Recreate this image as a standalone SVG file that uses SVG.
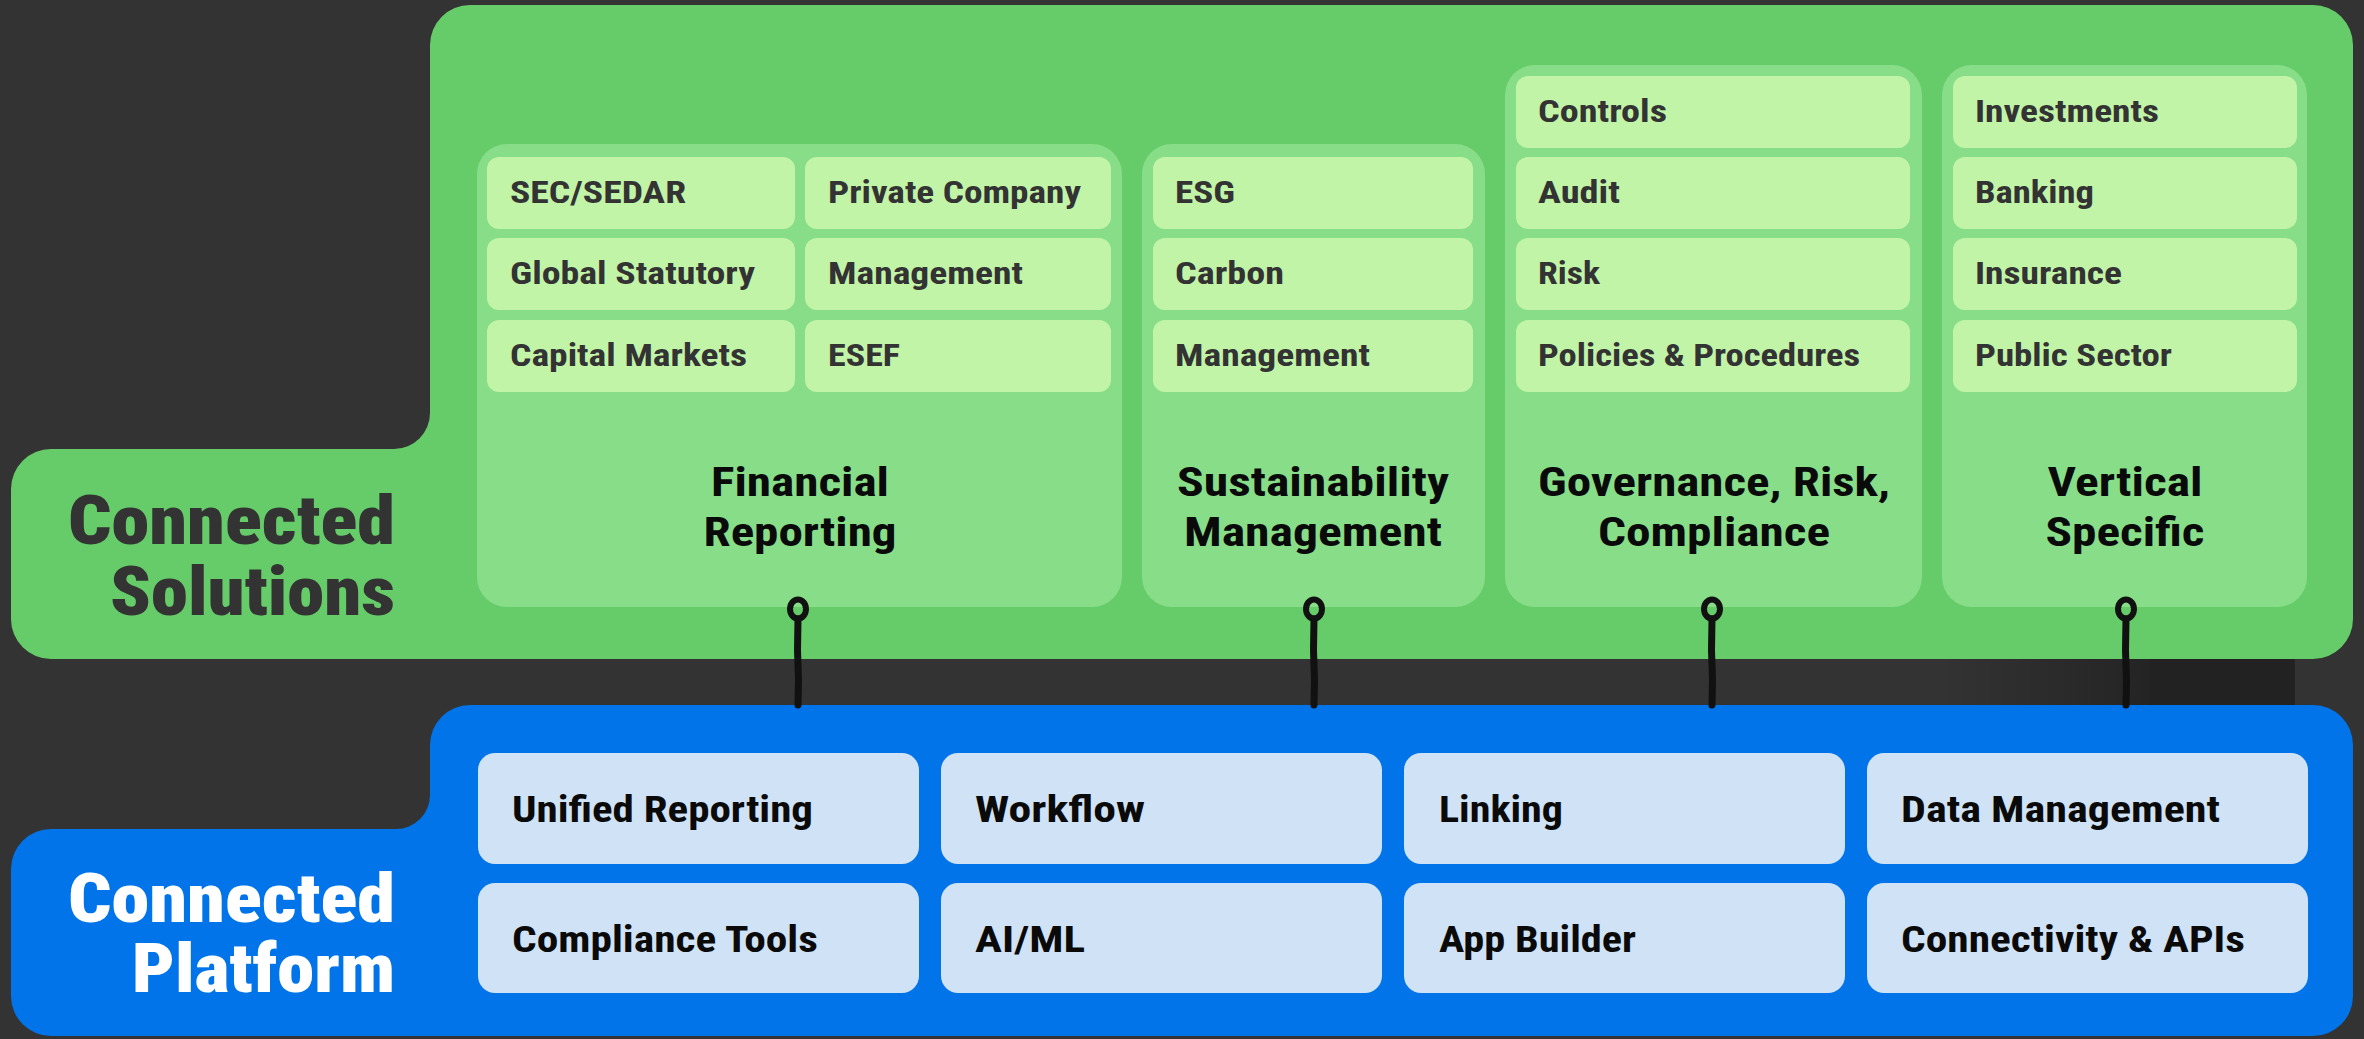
<svg xmlns="http://www.w3.org/2000/svg" width="2364" height="1039" viewBox="0 0 2364 1039">
<style>
.bg{fill:#333333}
.green{fill:#66cc6a}
.col{fill:#88de88}
.item{fill:#c2f4a8}
.blue{fill:#0074e8}
.bitem{fill:#cfe2f6}
text{font-family:"Roboto Condensed","Liberation Sans Narrow","Roboto","Liberation Sans",sans-serif;font-weight:700}
.it{font-size:32px;fill:#333333}
.ti{font-size:40px;fill:#0a0a0a;text-anchor:middle}
.bt{font-size:37px;fill:#0a0a0a}
.big{font-size:69px;font-weight:900;text-anchor:end}
.conn{fill:none;stroke:#111111;stroke-linecap:round;stroke-linejoin:round}
</style>
<defs>
<linearGradient id="shade" x1="0" y1="0" x2="1" y2="0">
<stop offset="0" stop-color="#333333"/>
<stop offset="1" stop-color="#242424"/>
</linearGradient>
</defs>
<rect class="bg" x="0" y="0" width="2364" height="1039"/>
<rect x="1940" y="655" width="209" height="55" fill="url(#shade)"/>
<rect x="2149" y="655" width="146" height="55" fill="#222222"/>

<g id="connected-solutions">
<path class="green" d="M11,489 A40,40 0 0 1 51,449 L394,449 A36,36 0 0 0 430,413 L430,45 A40,40 0 0 1 470,5 L2313,5 A40,40 0 0 1 2353,45 L2353,619 A40,40 0 0 1 2313,659 L51,659 A40,40 0 0 1 11,619 Z"/>
<text class="big" x="395" y="544" fill="#333333" textLength="327" lengthAdjust="spacingAndGlyphs">Connected</text>
<text class="big" x="395" y="615" fill="#333333" textLength="285" lengthAdjust="spacingAndGlyphs">Solutions</text>
</g>

<g id="financial-reporting">
<rect class="col" x="477" y="144" width="645" height="463" rx="30"/>
<rect class="item" x="487" y="157" width="308" height="72" rx="12"/>
<rect class="item" x="487" y="238" width="308" height="72" rx="12"/>
<rect class="item" x="487" y="320" width="308" height="72" rx="12"/>
<rect class="item" x="805" y="157" width="306" height="72" rx="12"/>
<rect class="item" x="805" y="238" width="306" height="72" rx="12"/>
<rect class="item" x="805" y="320" width="306" height="72" rx="12"/>
<text class="it" x="510" y="203" textLength="176" lengthAdjust="spacingAndGlyphs">SEC/SEDAR</text>
<text class="it" x="510" y="284" textLength="245" lengthAdjust="spacingAndGlyphs">Global Statutory</text>
<text class="it" x="510" y="366" textLength="237" lengthAdjust="spacingAndGlyphs">Capital Markets</text>
<text class="it" x="828" y="203" textLength="253" lengthAdjust="spacingAndGlyphs">Private Company</text>
<text class="it" x="828" y="284" textLength="195" lengthAdjust="spacingAndGlyphs">Management</text>
<text class="it" x="828" y="366" textLength="72" lengthAdjust="spacingAndGlyphs">ESEF</text>
<text class="ti" x="800" y="496" textLength="178" lengthAdjust="spacingAndGlyphs">Financial</text>
<text class="ti" x="800" y="546" textLength="193" lengthAdjust="spacingAndGlyphs">Reporting</text>
</g>

<g id="sustainability-management">
<rect class="col" x="1142" y="144" width="343" height="463" rx="30"/>
<rect class="item" x="1153" y="157" width="320" height="72" rx="12"/>
<rect class="item" x="1153" y="238" width="320" height="72" rx="12"/>
<rect class="item" x="1153" y="320" width="320" height="72" rx="12"/>
<text class="it" x="1175" y="203" textLength="60" lengthAdjust="spacingAndGlyphs">ESG</text>
<text class="it" x="1175" y="284" textLength="109" lengthAdjust="spacingAndGlyphs">Carbon</text>
<text class="it" x="1175" y="366" textLength="195" lengthAdjust="spacingAndGlyphs">Management</text>
<text class="ti" x="1313" y="496" textLength="272" lengthAdjust="spacingAndGlyphs">Sustainability</text>
<text class="ti" x="1313" y="546" textLength="258" lengthAdjust="spacingAndGlyphs">Management</text>
</g>

<g id="governance-risk-compliance">
<rect class="col" x="1505" y="65" width="417" height="542" rx="30"/>
<rect class="item" x="1516" y="76" width="394" height="72" rx="12"/>
<rect class="item" x="1516" y="157" width="394" height="72" rx="12"/>
<rect class="item" x="1516" y="238" width="394" height="72" rx="12"/>
<rect class="item" x="1516" y="320" width="394" height="72" rx="12"/>
<text class="it" x="1538" y="122" textLength="129" lengthAdjust="spacingAndGlyphs">Controls</text>
<text class="it" x="1538" y="203" textLength="82" lengthAdjust="spacingAndGlyphs">Audit</text>
<text class="it" x="1538" y="284" textLength="62" lengthAdjust="spacingAndGlyphs">Risk</text>
<text class="it" x="1538" y="366" textLength="322" lengthAdjust="spacingAndGlyphs">Policies &amp; Procedures</text>
<text class="ti" x="1714" y="496" textLength="352" lengthAdjust="spacingAndGlyphs">Governance, Risk,</text>
<text class="ti" x="1714" y="546" textLength="232" lengthAdjust="spacingAndGlyphs">Compliance</text>
</g>

<g id="vertical-specific">
<rect class="col" x="1942" y="65" width="365" height="542" rx="30"/>
<rect class="item" x="1953" y="76" width="344" height="72" rx="12"/>
<rect class="item" x="1953" y="157" width="344" height="72" rx="12"/>
<rect class="item" x="1953" y="238" width="344" height="72" rx="12"/>
<rect class="item" x="1953" y="320" width="344" height="72" rx="12"/>
<text class="it" x="1975" y="122" textLength="184" lengthAdjust="spacingAndGlyphs">Investments</text>
<text class="it" x="1975" y="203" textLength="119" lengthAdjust="spacingAndGlyphs">Banking</text>
<text class="it" x="1975" y="284" textLength="147" lengthAdjust="spacingAndGlyphs">Insurance</text>
<text class="it" x="1975" y="366" textLength="197" lengthAdjust="spacingAndGlyphs">Public Sector</text>
<text class="ti" x="2125" y="496" textLength="155" lengthAdjust="spacingAndGlyphs">Vertical</text>
<text class="ti" x="2125" y="546" textLength="159" lengthAdjust="spacingAndGlyphs">Specific</text>
</g>

<g id="connected-platform">
<path class="blue" d="M11,869 A40,40 0 0 1 51,829 L396,829 A34,34 0 0 0 430,795 L430,745 A40,40 0 0 1 470,705 L2313,705 A40,40 0 0 1 2353,745 L2353,996 A40,40 0 0 1 2313,1036 L51,1036 A40,40 0 0 1 11,996 Z"/>
<text class="big" x="395" y="922" fill="#ffffff" textLength="327" lengthAdjust="spacingAndGlyphs">Connected</text>
<text class="big" x="395" y="992" fill="#ffffff" textLength="263" lengthAdjust="spacingAndGlyphs">Platform</text>
</g>

<g id="platform-unified-reporting"><rect class="bitem" x="478" y="753" width="441" height="111" rx="17"/><text class="bt" x="512" y="822" textLength="301" lengthAdjust="spacingAndGlyphs">Unified Reporting</text></g>
<g id="platform-compliance-tools"><rect class="bitem" x="478" y="883" width="441" height="110" rx="17"/><text class="bt" x="512" y="952" textLength="306" lengthAdjust="spacingAndGlyphs">Compliance Tools</text></g>
<g id="platform-workflow"><rect class="bitem" x="941" y="753" width="441" height="111" rx="17"/><text class="bt" x="975" y="822" textLength="170" lengthAdjust="spacingAndGlyphs">Workflow</text></g>
<g id="platform-ai-ml"><rect class="bitem" x="941" y="883" width="441" height="110" rx="17"/><text class="bt" x="975" y="952" textLength="110" lengthAdjust="spacingAndGlyphs">AI/ML</text></g>
<g id="platform-linking"><rect class="bitem" x="1404" y="753" width="441" height="111" rx="17"/><text class="bt" x="1439" y="822" textLength="124" lengthAdjust="spacingAndGlyphs">Linking</text></g>
<g id="platform-app-builder"><rect class="bitem" x="1404" y="883" width="441" height="110" rx="17"/><text class="bt" x="1439" y="952" textLength="197" lengthAdjust="spacingAndGlyphs">App Builder</text></g>
<g id="platform-data-management"><rect class="bitem" x="1867" y="753" width="441" height="111" rx="17"/><text class="bt" x="1901" y="822" textLength="319" lengthAdjust="spacingAndGlyphs">Data Management</text></g>
<g id="platform-connectivity-apis"><rect class="bitem" x="1867" y="883" width="441" height="110" rx="17"/><text class="bt" x="1901" y="952" textLength="344" lengthAdjust="spacingAndGlyphs">Connectivity &amp; APIs</text></g>

<g id="connectors">
<ellipse class="conn" cx="798" cy="609" rx="8" ry="9.5" stroke-width="6"/>
<path class="conn" d="M798,619 L797.5,650 L798.5,680 L798,705" stroke-width="7"/>
<ellipse class="conn" cx="1314" cy="609" rx="8" ry="9.5" stroke-width="6"/>
<path class="conn" d="M1314,619 L1313.5,650 L1314.5,680 L1314,705" stroke-width="7"/>
<ellipse class="conn" cx="1712" cy="609" rx="8" ry="9.5" stroke-width="6"/>
<path class="conn" d="M1712,619 L1711.5,650 L1712.5,680 L1712,705" stroke-width="7"/>
<ellipse class="conn" cx="2126" cy="609" rx="8" ry="9.5" stroke-width="6"/>
<path class="conn" d="M2126,619 L2125.5,650 L2126.5,680 L2126,705" stroke-width="7"/>
</g>
</svg>
